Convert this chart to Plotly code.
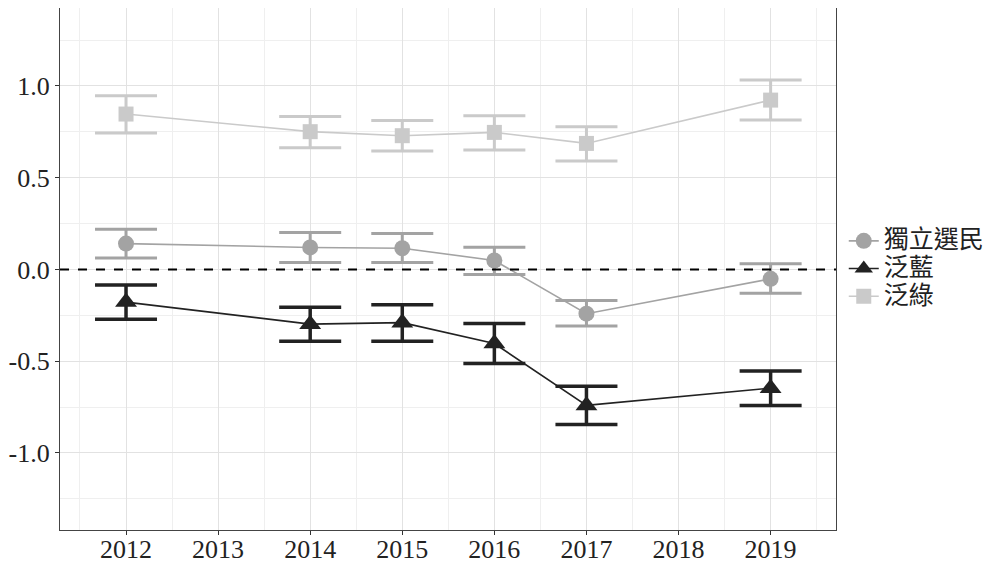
import plotly.graph_objects as go

years = [2012, 2014, 2015, 2016, 2017, 2019]

indep_mean = [0.141, 0.120, 0.116, 0.049, -0.241, -0.051]
indep_hi = [0.219, 0.201, 0.196, 0.121, -0.169, 0.031]
indep_lo = [0.062, 0.038, 0.038, -0.027, -0.308, -0.129]

blue_mean = [-0.178, -0.298, -0.290, -0.404, -0.741, -0.647]
blue_hi = [-0.085, -0.206, -0.192, -0.295, -0.637, -0.553]
blue_lo = [-0.272, -0.391, -0.391, -0.513, -0.845, -0.741]

green_mean = [0.847, 0.751, 0.729, 0.747, 0.687, 0.923]
green_hi = [0.947, 0.834, 0.812, 0.838, 0.778, 1.032]
green_lo = [0.744, 0.664, 0.646, 0.651, 0.591, 0.814]

series = [
    ("獨立選民", indep_mean, indep_hi, indep_lo, "#a3a3a3", "circle", 16, 3),
    ("泛藍", blue_mean, blue_hi, blue_lo, "#222222", "triangle-up", 19, 3.5),
    ("泛綠", green_mean, green_hi, green_lo, "#cacaca", "square", 15, 3),
]

y_tickvals = [-1.0, -0.5, 0.0, 0.5, 1.0]
y_ticktext = ["-1.0", "-0.5", "0.0", "0.5", "1.0"]

fig = go.Figure()
for name, m, hi, lo, col, sym, size, thick in series:
    fig.add_trace(go.Scatter(
        x=years, y=m, name="<span style='font-size:25px'>" + name + "</span>",
        mode="lines+markers",
        line=dict(color=col, width=1.6),
        marker=dict(color=col, symbol=sym, size=size),
        error_y=dict(type="data", symmetric=False,
                     array=[h - v for h, v in zip(hi, m)],
                     arrayminus=[v - l for l, v in zip(lo, m)],
                     color=col, thickness=thick, width=31),
    ))

fig.add_shape(type="line", xref="paper", x0=0, x1=1, yref="y", y0=0, y1=0,
              line=dict(color="black", width=2, dash="dash"), layer="above")

font_serif = "'Liberation Serif', 'Times New Roman', Times, serif"
# page body has an 8px margin, so the figure is offset by 8px
fig.update_layout(
    width=989, height=555,
    margin=dict(l=52, r=161, t=0, b=33, autoexpand=False),
    paper_bgcolor="white", plot_bgcolor="white",
    font=dict(family=font_serif, size=26, color="#222"),
    showlegend=True,
    legend=dict(x=1.01, xanchor="left", y=0.5, yanchor="middle",
                font=dict(family="'Liberation Serif', 'Noto Sans CJK TC'", size=19, color="#222"),
                tracegroupgap=0, itemwidth=30, bgcolor="rgba(0,0,0,0)"),
)
fig.update_xaxes(
    range=[2011.283, 2019.71], tickmode="linear", tick0=2012, dtick=1,
    automargin=False, ticklabelstandoff=-8,
    showgrid=True, gridcolor="#e2e2e2", gridwidth=1.2,
    minor=dict(dtick=0.5, tick0=2011.5, showgrid=True, gridcolor="#efefef", gridwidth=1),
    showline=True, linecolor="#444", linewidth=1.3, mirror=True,
    ticks="outside", ticklen=4, tickcolor="#333", tickwidth=1.3,
    zeroline=False, tickfont=dict(family=font_serif, size=26, color="#222"),
)
fig.update_yaxes(
    range=[-1.42, 1.425], tickmode="array", tickvals=y_tickvals, ticktext=y_ticktext,
    automargin=False,
    showgrid=True, gridcolor="#e2e2e2", gridwidth=1.2,
    minor=dict(tickmode="array", tickvals=[-1.25, -0.75, -0.25, 0.25, 0.75, 1.25],
               showgrid=True, gridcolor="#efefef", gridwidth=1),
    showline=True, linecolor="#444", linewidth=1.3, mirror=True,
    ticks="outside", ticklen=4, tickcolor="#333", tickwidth=1.3,
    zeroline=False, tickfont=dict(family=font_serif, size=26, color="#222"),
)

fig.write_html("out.html")
